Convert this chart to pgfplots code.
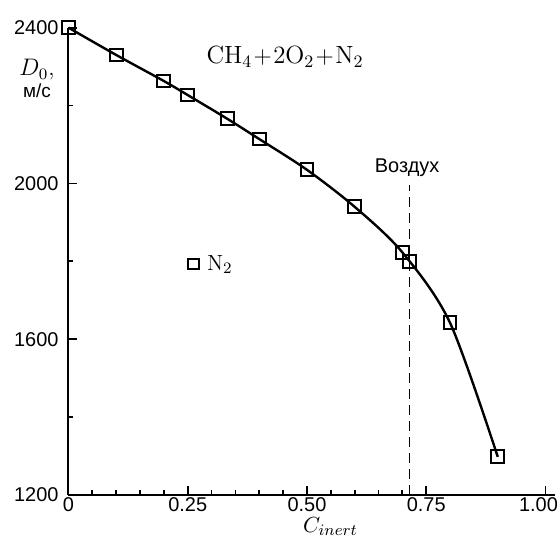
\documentclass[border=0pt]{standalone}
\usepackage{pgfplots}
\pgfplotsset{compat=1.18}
\usetikzlibrary{calc}
\usepackage{fontspec}
\newfontfamily\sans{Liberation Sans}
\begin{document}
\begin{tikzpicture}
\begin{axis}[
  scale only axis,
  width=243.25bp, height=233.65bp,
  xmin=0, xmax=1.02, ymin=1200, ymax=2400,
  axis lines*=left,
  axis line style={line width=1bp},
  every tick/.style={black, line width=0.9bp},
  tick align=inside,
  major tick length=4.5bp, minor tick length=2.5bp,
  xtick={0,0.25,0.5,0.75}, xticklabels={0,0.25,0.50,0.75},
  extra x ticks={1}, extra x tick labels={1.00},
  extra x tick style={xticklabel style={xshift=-3.5bp}},
  minor x tick num=4,
  ytick={1200,1600,2000,2400}, minor y tick num=1,
  /pgf/number format/assume math mode=true,
  /pgf/number format/1000 sep={},
  tick label style={font=\sans\fontsize{10}{12}\selectfont},
  yticklabel style={xshift=-1.5bp},
  xticklabel style={yshift=0.5bp, inner sep=1.5bp},
  clip=false,
  legend style={draw=none, fill=none, at={(axis cs:0.250,1793)}, anchor=west, inner sep=0pt, font=\fontsize{11}{13}\selectfont},
  legend image code/.code={\draw[#1] plot coordinates {(0cm,0cm)}; \path (4.6bp,0);},
]
\coordinate (O) at (rel axis cs:0,0);
\coordinate (T) at (rel axis cs:0,1);
\addplot[black, line width=1.2bp, smooth, forget plot] coordinates {
  (0,2400) (0.1,2330) (0.2,2263) (0.25,2227) (0.333,2166) (0.4,2114)
  (0.5,2035) (0.6,1940) (0.7,1823) (0.8,1642) (0.9,1298)
};
\addplot[only marks, black, mark=square, mark size=3.2bp,
  mark options={fill=white, solid, line width=1bp}, forget plot] coordinates {
  (0,2400) (0.1,2330) (0.2,2263) (0.25,2227) (0.333,2166) (0.4,2114)
  (0.5,2035) (0.6,1940) (0.7,1823) (0.715,1799) (0.8,1642) (0.9,1298)
};
\addplot[black, line width=0.6bp, dash pattern=on 5bp off 3bp, forget plot] coordinates {(0.715,1200) (0.715,1996)};
\addlegendimage{only marks, mark=square, mark size=2.65bp, mark options={line width=0.9bp, fill=white}}
\addlegendentry{$\mathrm{N}_2$}
\node[font=\sans\fontsize{10}{12}\selectfont] at (axis cs:0.71,2040) {Воздух};
\node[font=\fontsize{12.5}{14}\selectfont] at (axis cs:0.454,2325) {$\mathrm{CH_4\!+\!2O_2\!+\!N_2}$};
\end{axis}
\node[inner sep=0pt, font=\fontsize{11.5}{13}\selectfont] at ($(T)+(-15.75bp,-21bp)$) {$D_0$,};
\node[inner sep=0pt, font=\sans\fontsize{9.5}{11}\selectfont] at ($(T)+(-15.75bp,-31.7bp)$) {м/с};
\node[inner sep=0pt, font=\fontsize{11}{13}\selectfont] at ($(O)+(131bp,-15.6bp)$) {$C_{inert}$};
\pgfresetboundingbox
\path[use as bounding box] (O) ++(-34.25bp,-21bp) rectangle ++(279bp,268.5bp);
\end{tikzpicture}
\end{document}
